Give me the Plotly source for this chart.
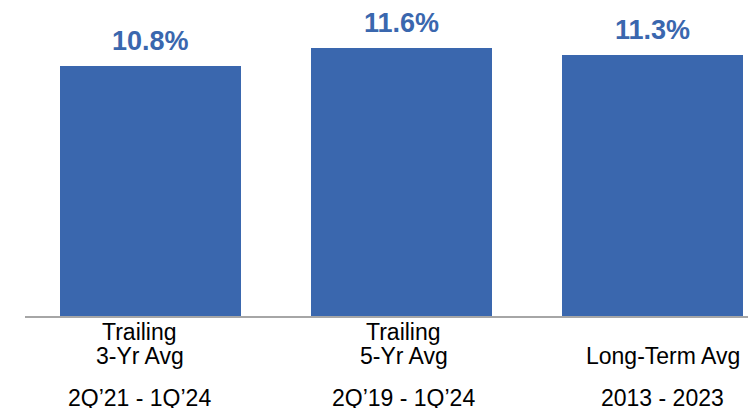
import plotly.graph_objects as go

categories = ["Trailing 3-Yr Avg", "Trailing 5-Yr Avg", "Long-Term Avg"]
values = [10.8, 11.6, 11.3]
value_labels = ["10.8%", "11.6%", "11.3%"]
label_line1 = ["Trailing", "Trailing", ""]
label_line2 = ["3-Yr Avg", "5-Yr Avg", "Long-Term Avg"]
period_labels = ["2Q\u201921 - 1Q\u201924", "2Q\u201919 - 1Q\u201924", "2013 - 2023"]

BLUE = "#3A67AE"
label_xshift = [-11, 2, 10]

fig = go.Figure()
fig.add_trace(go.Bar(
    x=list(range(len(categories))),
    y=values,
    width=0.725,
    marker=dict(color=BLUE, line=dict(width=0)),
    hoverinfo="skip",
))

annotations = []
for i, (v, t) in enumerate(zip(values, value_labels)):
    annotations.append(dict(
        x=i, y=v, xref="x", yref="y", text=f"<b>{t}</b>", showarrow=False,
        yanchor="bottom", xanchor="center", yshift=8,
        font=dict(family="Liberation Sans, Arial, sans-serif", size=27, color=BLUE),
    ))
for i in range(len(categories)):
    for txt, ys in ((label_line1[i], -1), (label_line2[i], -25), (period_labels[i], -67)):
        if not txt:
            continue
        annotations.append(dict(
            x=i, y=0, xref="x", yref="paper", text=txt, showarrow=False,
            yanchor="top", xanchor="center", yshift=ys, xshift=label_xshift[i],
            font=dict(family="Liberation Sans, Arial, sans-serif", size=23, color="#000000"),
        ))

# page body has an 8px default margin, so the figure is 8px smaller than the window
fig.update_layout(
    width=748, height=400,
    margin=dict(l=17, r=0, t=0, b=92),
    paper_bgcolor="white", plot_bgcolor="white",
    showlegend=False,
    bargap=0,
    annotations=annotations,
    xaxis=dict(range=[-0.5, -0.5 + 731 / 251], showticklabels=False, showgrid=False,
               zeroline=False, showline=True, linecolor="#A6A6A6", linewidth=1.5,
               ticks=""),
    yaxis=dict(range=[0, 308 / 23.13], visible=False, showgrid=False, zeroline=False),
)

fig.write_html("out.html")
